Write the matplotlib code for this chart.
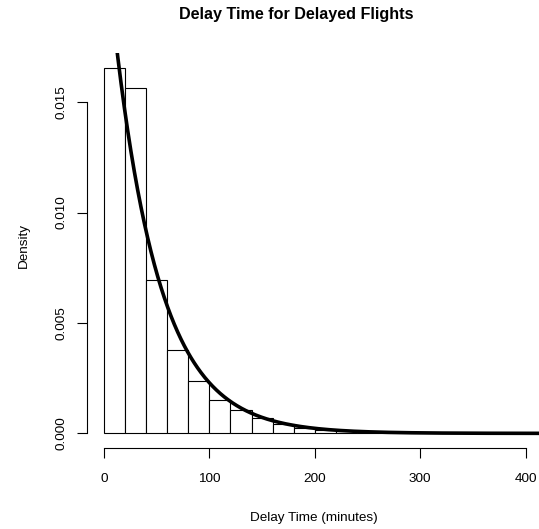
import numpy as np
import matplotlib
matplotlib.use("Agg")
import matplotlib.pyplot as plt

plt.rcParams['font.family'] = ['Liberation Sans', 'DejaVu Sans']

# Histogram data (density per bin, bins of 20 minutes)
bin_edges = [0, 20, 40, 60, 80, 100, 120, 140, 160, 180, 200, 220, 240, 260,
             280, 300, 320, 340, 360, 380, 400]
densities = [0.01656, 0.01566, 0.00694, 0.00379, 0.00236, 0.00152, 0.00106,
             0.00068, 0.00042, 0.00026, 0.00017, 0.00010, 0.00006, 0.00004,
             0.00003, 0.00002, 0.00002, 0.00001, 0.00001, 0.00001]
exp_rate = 0.0231  # fitted exponential rate

x_ticks = [0, 100, 200, 300, 400]
y_ticks = [0.000, 0.005, 0.010, 0.015]
y_tick_labels = ["0.000", "0.005", "0.010", "0.015"]

W, H = 539, 529
fig = plt.figure(figsize=(W / 100, H / 100), dpi=100)
left, right, top, bottom = 87, 542.6, 53, 448
ax = fig.add_axes([left / W, 1 - bottom / H, (right - left) / W, (bottom - top) / H])

edges = np.array(bin_edges, dtype=float)
ax.bar(edges[:-1], densities, width=np.diff(edges), align='edge',
       facecolor='white', edgecolor='black', linewidth=0.8)

xs = np.linspace(0, 420, 800)
ax.plot(xs, exp_rate * np.exp(-exp_rate * xs), color='black', lw=2.6)

ax.set_xlim(-16, 416)
ymax = max(densities)
ax.set_ylim(-0.04 * ymax, ymax * 1.04)

for s in ['top', 'right']:
    ax.spines[s].set_visible(False)
ax.spines['left'].set_bounds(0, 0.015)
ax.spines['bottom'].set_bounds(0, 400)
for s in ['left', 'bottom']:
    ax.spines[s].set_linewidth(0.8)

ax.set_xticks(x_ticks)
ax.set_xticklabels([str(t) for t in x_ticks])
ax.set_yticks(y_ticks)
ax.set_yticklabels(y_tick_labels, rotation=90, va='center')
ax.tick_params(direction='out', length=7.2, width=0.8, labelsize=9.7)
ax.tick_params(axis='x', pad=10.5)
ax.tick_params(axis='y', pad=6.5)

fig.text(296 / W, 1 - 14.3 / H, "Delay Time for Delayed Flights", ha='center', va='center',
         fontsize=11.65, fontweight='bold')
fig.text(314 / W, 1 - 517.5 / H, "Delay Time (minutes)", ha='center', va='center', fontsize=9.7)
fig.text(23.5 / W, 1 - 245 / H, "Density", ha='center', va='center', rotation=90, fontsize=9.7)

fig.savefig("out.png", dpi=100)
